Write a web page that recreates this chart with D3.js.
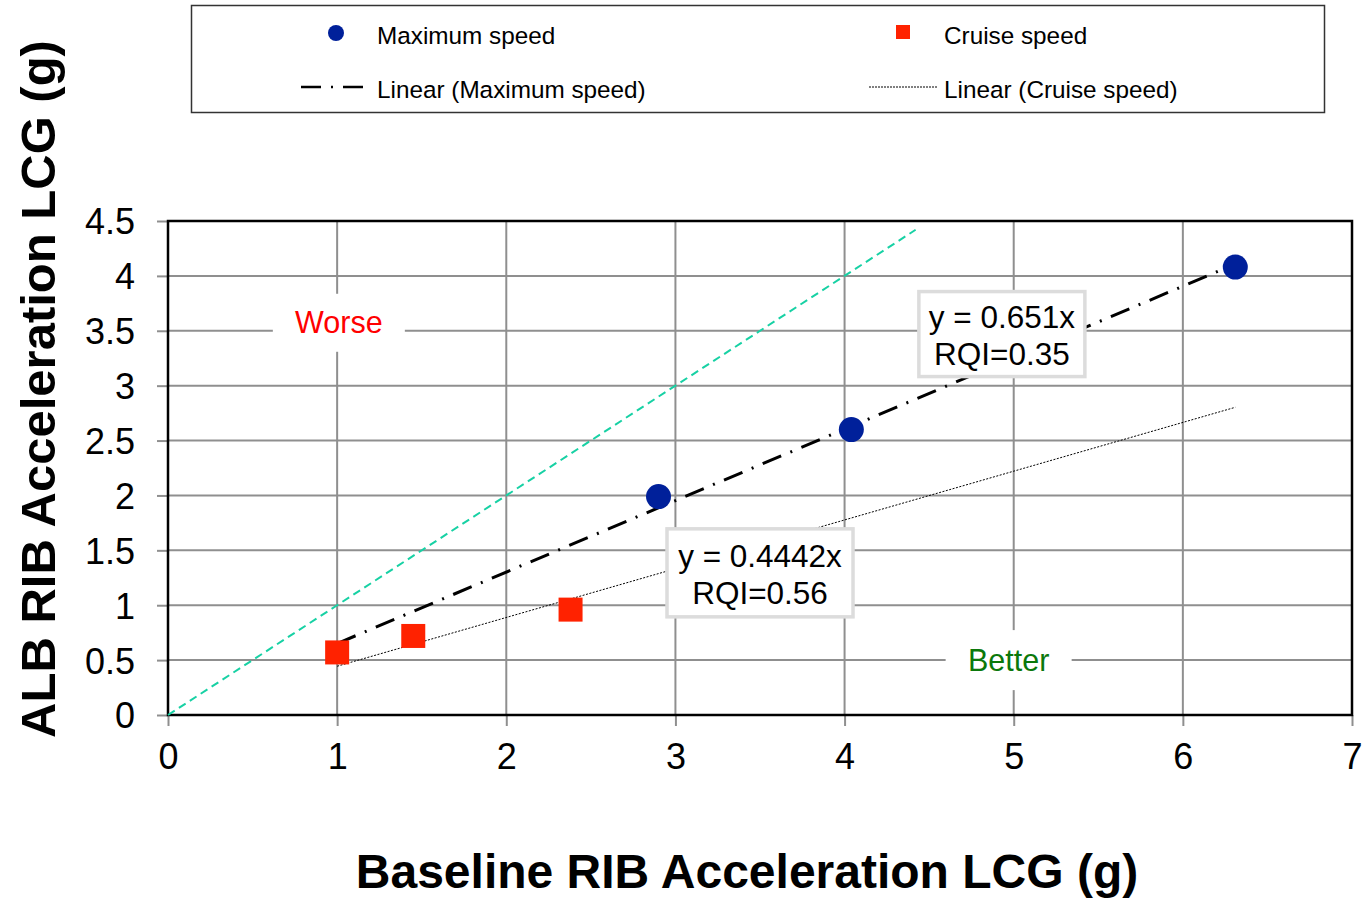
<!DOCTYPE html>
<html>
<head>
<meta charset="utf-8">
<script src="https://cdn.jsdelivr.net/npm/d3@7"></script>
<style>
  html, body { margin: 0; padding: 0; background: #fff; }
  svg { display: block; font-family: "Liberation Sans", Arial, sans-serif; }
</style>
</head>
<body>
<svg id="chart" width="1364" height="901"></svg>
<script>
// Measured accelerations at LCG (g): baseline RIB (x) vs ALB RIB (y)
const maxSpeedX = [2.90, 4.04, 6.31];
const maxSpeedY = [1.99, 2.60, 4.08];
const cruiseX = [1.00, 1.45, 2.38];
const cruiseY = [0.57, 0.72, 0.96];

// Linear trendlines through the origin and the span they are drawn over
const maxSlope = 0.651;
const cruiseSlope = 0.4442;
const trendRange = [1.0, 6.31];
const parityRange = [0, 4.42];

const xTicks = [0, 1, 2, 3, 4, 5, 6, 7];
const yTicks = [0, 0.5, 1, 1.5, 2, 2.5, 3, 3.5, 4, 4.5];

const legendLabels = ["Maximum speed", "Cruise speed", "Linear (Maximum speed)", "Linear (Cruise speed)"];
const eqMax = ["y = 0.651x", "RQI=0.35"];
const eqCruise = ["y = 0.4442x", "RQI=0.56"];

const svg = d3.select("#chart");
const plot = { left: 168, right: 1352, top: 221, bottom: 715 };

const x = d3.scaleLinear().domain([0, 7]).range([plot.left, plot.right]);
const y = d3.scaleLinear().domain([0, 4.5]).range([plot.bottom, plot.top]);

const blue = "#00209a";
const red = "#ff2200";
const gridColor = "#8f8f8f";

// Grid
svg.append("g").selectAll("line.h").data(yTicks.filter(d => d > 0 && d < 4.5)).join("line")
  .attr("x1", plot.left).attr("x2", plot.right)
  .attr("y1", d => y(d)).attr("y2", d => y(d))
  .attr("stroke", gridColor).attr("stroke-width", 2);
svg.append("g").selectAll("line.v").data(xTicks.filter(d => d > 0 && d < 7)).join("line")
  .attr("y1", plot.top).attr("y2", plot.bottom)
  .attr("x1", d => x(d)).attr("x2", d => x(d))
  .attr("stroke", gridColor).attr("stroke-width", 2);

// Axes
const xAxis = svg.append("g").attr("transform", `translate(0,${plot.bottom})`)
  .call(d3.axisBottom(x).tickValues(xTicks).tickSize(11).tickPadding(17).tickFormat(d3.format("d")));
const yAxis = svg.append("g").attr("transform", `translate(${plot.left},0)`)
  .call(d3.axisLeft(y).tickValues(yTicks).tickSize(11).tickPadding(22).tickFormat(d => String(d)));
[xAxis, yAxis].forEach(a => {
  a.select(".domain").remove();
  a.selectAll(".tick line").attr("stroke", gridColor).attr("stroke-width", 2);
  a.selectAll(".tick text").attr("fill", "#000").style("font-size", "36px")
    .style("font-family", "'Liberation Sans', Arial, sans-serif");
});
xAxis.selectAll(".tick text").attr("dy", "0.71em");
yAxis.selectAll(".tick text").attr("dy", "0.36em");

// Plot frame
svg.append("rect")
  .attr("x", plot.left).attr("y", plot.top)
  .attr("width", plot.right - plot.left).attr("height", plot.bottom - plot.top)
  .attr("fill", "none").attr("stroke", "#000").attr("stroke-width", 2.5);

// Region labels on white patches
function regionLabel(cx, cy, w, h, text, color) {
  svg.append("rect").attr("x", cx - w / 2).attr("y", cy - h / 2)
    .attr("width", w).attr("height", h).attr("fill", "#fff");
  svg.append("text").attr("x", cx).attr("y", cy).attr("dy", "0.35em")
    .attr("text-anchor", "middle").attr("fill", color)
    .style("font-size", "30.5px").text(text);
}
regionLabel(x(1.01), y(3.5) - 8, 132, 58, "Worse", "#ff0000");
regionLabel(x(4.97), y(0.5), 126, 60, "Better", "#0b780b");

// Parity line y = x
const line = d3.line().x(d => x(d[0])).y(d => y(d[1]));
svg.append("path")
  .datum(parityRange.map(v => [v, v]))
  .attr("d", line).attr("fill", "none")
  .attr("stroke", "#17d1a4").attr("stroke-width", 2).attr("stroke-dasharray", "8,5");

// Trendlines
svg.append("path")
  .datum(trendRange.map(v => [v, cruiseSlope * v]))
  .attr("d", line).attr("fill", "none")
  .attr("stroke", "#000").attr("stroke-width", 1).attr("stroke-dasharray", "2,1.5");
svg.append("path")
  .datum(trendRange.map(v => [v, maxSlope * v]))
  .attr("d", line).attr("fill", "none")
  .attr("stroke", "#000").attr("stroke-width", 3).attr("stroke-dasharray", "20,10,2,10");

// Markers
svg.append("g").selectAll("rect").data(cruiseX.map((v, i) => [v, cruiseY[i]])).join("rect")
  .attr("x", d => x(d[0]) - 12).attr("y", d => y(d[1]) - 12)
  .attr("width", 24).attr("height", 24).attr("fill", red);
svg.append("g").selectAll("circle").data(maxSpeedX.map((v, i) => [v, maxSpeedY[i]])).join("circle")
  .attr("cx", d => x(d[0])).attr("cy", d => y(d[1])).attr("r", 12.5).attr("fill", blue);

// Equation boxes
function eqBox(cx, cy, w, h, lines) {
  svg.append("rect").attr("x", cx - w / 2).attr("y", cy - h / 2)
    .attr("width", w).attr("height", h)
    .attr("fill", "#fff").attr("stroke", "#dcdcdc").attr("stroke-width", 3.5);
  svg.append("text").attr("text-anchor", "middle").style("font-size", "31.5px")
    .selectAll("tspan").data(lines).join("tspan")
    .attr("x", cx).attr("y", (d, i) => cy - 6 + i * 37)
    .text(d => d);
}
eqBox(x(4.93), y(3.47), 166, 85, eqMax);
eqBox(x(3.50), y(1.295), 186, 88, eqCruise);

// Legend
const lg = svg.append("g");
lg.append("rect").attr("x", 191.5).attr("y", 5.5).attr("width", 1133).attr("height", 107)
  .attr("fill", "#fff").attr("stroke", "#333").attr("stroke-width", 1.5);
lg.append("circle").attr("cx", 336).attr("cy", 33).attr("r", 8).attr("fill", blue);
lg.append("rect").attr("x", 896).attr("y", 25).attr("width", 14).attr("height", 14).attr("fill", red);
lg.append("line").attr("x1", 301).attr("x2", 363).attr("y1", 87).attr("y2", 87)
  .attr("stroke", "#000").attr("stroke-width", 2.5).attr("stroke-dasharray", "20,10,2,10");
lg.append("line").attr("x1", 869).attr("x2", 937).attr("y1", 87).attr("y2", 87)
  .attr("stroke", "#000").attr("stroke-width", 1).attr("stroke-dasharray", "2,1");
const legendPos = [[377, 35], [944, 35], [377, 89], [944, 89]];
lg.selectAll("text").data(legendLabels).join("text")
  .attr("x", (d, i) => legendPos[i][0]).attr("y", (d, i) => legendPos[i][1])
  .attr("dy", "0.35em").style("font-size", "24.3px").text(d => d);

// Axis titles
svg.append("text").attr("x", 747).attr("y", 888).attr("text-anchor", "middle")
  .style("font-size", "48px").style("font-weight", "bold")
  .text("Baseline RIB Acceleration LCG (g)");
svg.append("text").attr("transform", "translate(55,389) rotate(-90)")
  .attr("text-anchor", "middle")
  .style("font-size", "49px").style("font-weight", "bold")
  .text("ALB RIB Acceleration LCG (g)");
</script>
</body>
</html>
